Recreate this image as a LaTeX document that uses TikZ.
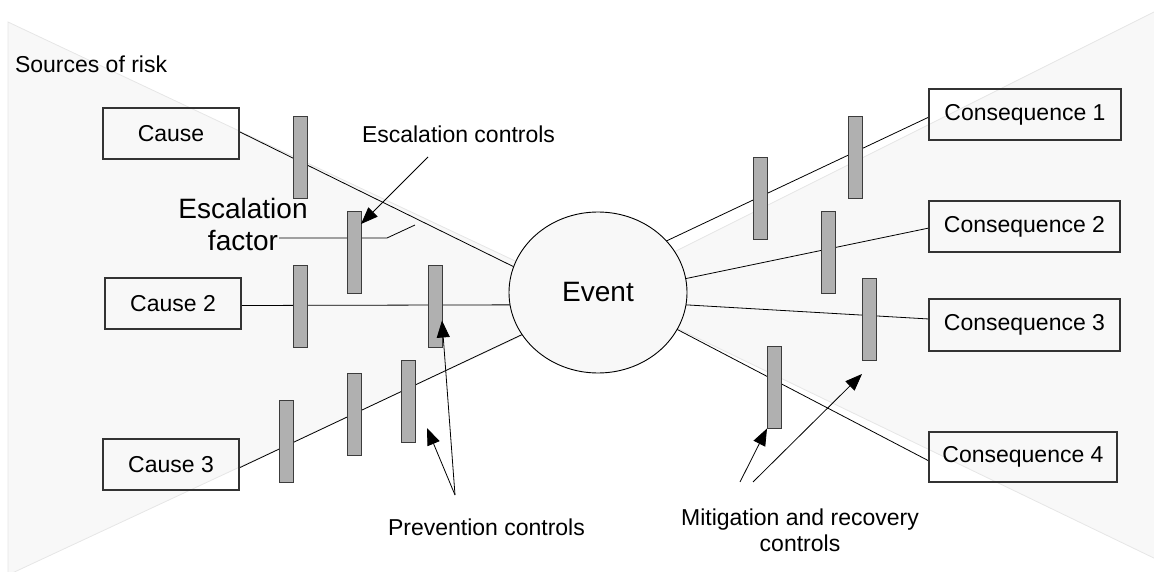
\documentclass[tikz,border=0pt]{standalone}
\usepackage{fontspec}
\setmainfont{Liberation Sans}
\usetikzlibrary{shapes.geometric,arrows.meta,calc}
\definecolor{bgfill}{HTML}{F8F8F8}
\definecolor{bgedge}{HTML}{E6E6E6}
\definecolor{barfill}{HTML}{B0B0B0}
\definecolor{baredge}{HTML}{3C3C3C}
\definecolor{boxedge}{HTML}{333333}
\pgfdeclarelayer{back}
\pgfdeclarelayer{links}
\pgfsetlayers{back,links,main}
\begin{document}
\begin{tikzpicture}[x=1pt,y=-1pt,
  lbl/.style={font=\fontsize{23}{26}\selectfont, inner sep=0pt, outer sep=0pt},
  big/.style={font=\fontsize{28}{32}\selectfont, inner sep=0pt, outer sep=0pt},
  entity/.style={draw=boxedge, line width=1.1pt, minimum height=51pt, inner sep=0pt, outer sep=0pt, font=\fontsize{23}{26}\selectfont},
  eventnode/.style={ellipse, draw=black, fill=bgfill, line width=0.9pt, minimum width=178pt, minimum height=161pt, inner sep=0pt, outer sep=0pt, font=\fontsize{28}{32}\selectfont},
  barrier/.style={draw=baredge, fill=barfill, line width=0.8pt, minimum width=14pt, minimum height=82pt, inner sep=0pt, outer sep=0pt},
  link/.style={draw=black, line width=0.8pt},
  ptr/.style={draw=black, line width=0.8pt, -{Triangle[length=17pt,width=13pt]}},
  bgshape/.style={fill=bgfill, draw=bgedge, line width=0.8pt},
]
\useasboundingbox (0,0) rectangle (1154,572);

% background bow-tie wedges
\begin{pgfonlayer}{back}
  \path[bgshape] (8,22) -- (598,300) -- (8,575) -- cycle;
  \path[bgshape] (598,290) -- (1160,9) -- (1160,561) -- cycle;
\end{pgfonlayer}

% entities
\node[entity, minimum width=136pt] (c1) at (171,133.5) {Cause};
\node[entity, minimum width=136pt] (c2) at (173,303.5) {Cause 2};
\node[entity, minimum width=136pt] (c3) at (171,464.5) {Cause 3};
\node[entity, minimum width=192pt] (q1) at (1025,114.5) {Consequence 1};
\node[entity, minimum width=191pt] (q2) at (1024.5,226.5) {Consequence 2};
\node[entity, minimum width=191pt, minimum height=52pt] (q3) at (1024.5,325) {Consequence 3};
\node[entity, minimum width=188pt, minimum height=50pt] (q4) at (1023,457) {Consequence 4};
\node[eventnode] (ev) at (598,292.5) {\raisebox{-3pt}{Event}};

% barriers
\node[barrier] (bc1) at (300,157) {};
\node[barrier] (besc) at (354,252) {};
\node[barrier] (bc2a) at (300,306.5) {};
\node[barrier] (bc2b) at (435,306.5) {};
\node[barrier] (bc3a) at (286,441.5) {};
\node[barrier] (bc3b) at (354,414) {};
\node[barrier] (bc3c) at (408,401) {};
\node[barrier] (bq1a) at (760,198) {};
\node[barrier] (bq1b) at (855,157) {};
\node[barrier] (bq2) at (828,252) {};
\node[barrier] (bq3) at (869,319) {};
\node[barrier] (bq4) at (774,387.5) {};

% labels
\node[lbl, anchor=base west] (src) at (15,73) {Sources of risk};
\node[lbl, anchor=base west] (esc) at (362,143) {Escalation controls};
\node[big, anchor=base, align=center] (ef) at (243,251) {Escalation\\factor};
\node[lbl, anchor=base west] (prev) at (388,535) {Prevention controls};
\node[lbl, anchor=base, align=center] (mit) at (800,551) {Mitigation and recovery\\controls};

% free ends of pointers
\coordinate (ef1) at (279,238);
\coordinate (ef2) at (387,238);
\coordinate (ef3) at (415,225);
\coordinate (escA) at (428,157);
\coordinate (prevA) at (455,495);
\coordinate (mitA) at (740,482);
\coordinate (mitB) at (753,482);

% pathways (under the barriers)
\begin{pgfonlayer}{links}
  \draw[link] ([yshift=2pt]c1.east) -- (ev.163);
  \draw[link] ([yshift=-2pt]c2.east) -- (ev.188);
  \draw[link] ([yshift=-3.5pt]c3.east) -- (ev.209);
  \draw[link] (ev.37) -- ([yshift=-2.5pt]q1.west);
  \draw[link] (ev.9) -- ([yshift=-1.5pt]q2.west);
  \draw[link] (ev.-8) -- ([yshift=6pt]q3.west);
  \draw[link] (ev.-25) -- ([yshift=-4pt]q4.west);
  \draw[link] (ef1) -- (ef2) -- (ef3);
\end{pgfonlayer}

% pointers
\draw[ptr] (escA) -- ([yshift=-13pt]besc.north east);
\draw[ptr] (prevA) -- ([yshift=27pt]bc2b.south east);
\draw[ptr] (prevA) -- ([xshift=12pt,yshift=14pt]bc3c.south east);
\draw[ptr] (mitA) -- (bq4.south west);
\draw[ptr] (mitB) -- ([yshift=-14pt]bq3.south west);
\end{tikzpicture}
\end{document}
